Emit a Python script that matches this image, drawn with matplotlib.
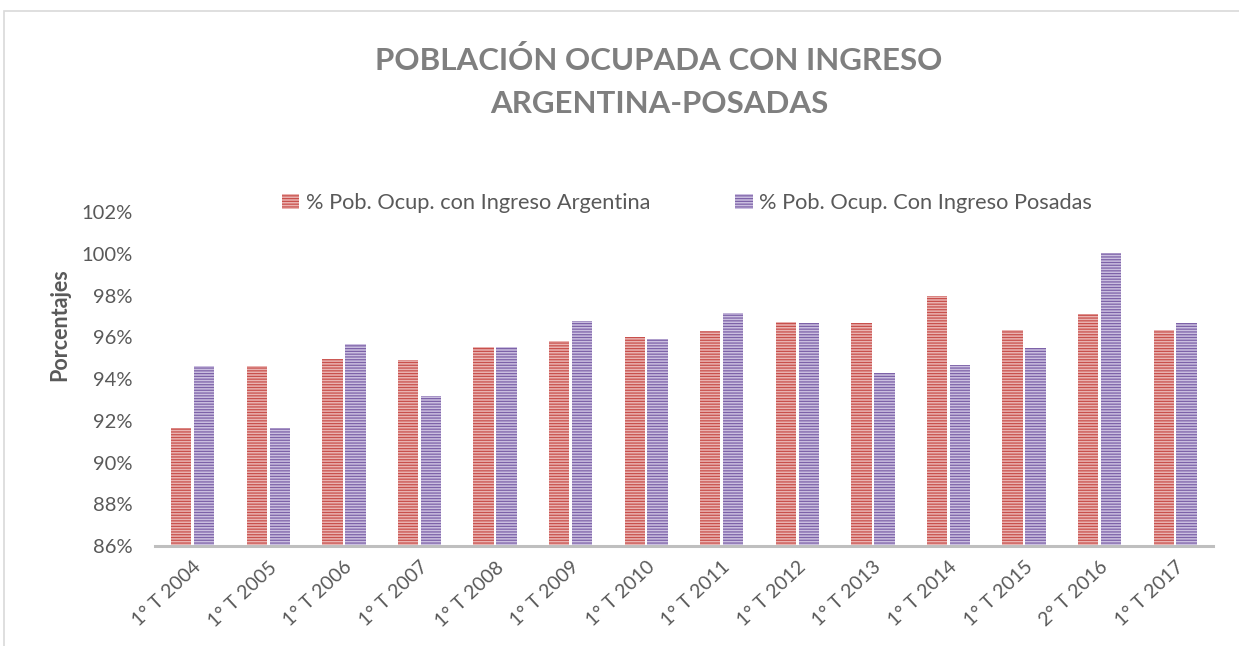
import matplotlib
matplotlib.use('Agg')
import matplotlib.pyplot as plt
from matplotlib.patches import Rectangle
from matplotlib.ticker import PercentFormatter
import numpy as np

periodos = ["1° T 2004", "1° T 2005", "1° T 2006", "1° T 2007", "1° T 2008",
            "1° T 2009", "1° T 2010", "1° T 2011", "1° T 2012", "1° T 2013",
            "1° T 2014", "1° T 2015", "2° T 2016", "1° T 2017"]
argentina = [91.65, 94.6, 94.95, 94.9, 95.55, 95.8, 96.0, 96.3, 96.75, 96.7,
             98.0, 96.35, 97.1, 96.35]
posadas = [94.6, 91.65, 95.7, 93.2, 95.55, 96.8, 95.9, 97.15, 96.7, 94.3,
           94.65, 95.5, 100.05, 96.7]

plt.rcParams['font.family'] = ['Lato', 'DejaVu Sans']
plt.rcParams['hatch.linewidth'] = 0.9

gris = '#595959'
fig = plt.figure(figsize=(12.39, 6.46), dpi=100)
ax = fig.add_axes([0.1251, 0.1548, 0.979 - 0.1251, 0.6718 - 0.1548])

x = np.arange(len(periodos))
w = 0.27
ax.bar(x - 0.152, argentina, w, bottom=0, facecolor='#eab3b1', edgecolor='#c8504c',
       hatch='------', linewidth=0, label='% Pob. Ocup. con Ingreso Argentina')
ax.bar(x + 0.152, posadas, w, bottom=0, facecolor='#cbbfe0', edgecolor='#7d62a8',
       hatch='------', linewidth=0, label='% Pob. Ocup. Con Ingreso Posadas')

ax.set_ylim(86, 102)
ax.set_xlim(-0.5, len(periodos) - 0.5)
ax.set_yticks(np.arange(86, 103, 2))
ax.yaxis.set_major_formatter(PercentFormatter(decimals=0))
ax.set_xticks(x)
ax.set_xticklabels(periodos, rotation=43, ha='right', rotation_mode='anchor')
ax.tick_params(axis='both', length=0, labelcolor=gris)
ax.tick_params(axis='y', pad=16, labelsize=14.5)
ax.tick_params(axis='x', pad=9, labelsize=14)
for s in ['top', 'right', 'left']:
    ax.spines[s].set_visible(False)
ax.spines['bottom'].set_color('#bfbfbf')
ax.spines['bottom'].set_linewidth(2.2)

fig.text(60 / 1239, 1 - 325 / 646, 'Porcentajes', rotation=90, ha='center', va='center',
         fontsize=15.5, fontweight='bold', color=gris)

fig.text(0.532, 1 - 61 / 646, 'POBLACIÓN OCUPADA CON INGRESO', ha='center', va='center',
         fontsize=22.5, fontweight='bold', color='#7f7f7f')
fig.text(0.532, 1 - 104 / 646, 'ARGENTINA-POSADAS', ha='center', va='center',
         fontsize=22.5, fontweight='bold', color='#7f7f7f')

fig.legend(loc='center', bbox_to_anchor=(687 / 1239, 1 - 203 / 646), ncol=2, frameon=False,
           fontsize=15.7, labelcolor=gris, handlelength=0.8, handleheight=0.7,
           handletextpad=0.3, columnspacing=3.9)

fig.patches.append(Rectangle((4 / 1239, -0.1), 2, 0.1 + 1 - 11 / 646, transform=fig.transFigure,
                             fill=False, edgecolor='#d9d9d9', linewidth=1.2))

fig.savefig('out.png', dpi=100)
